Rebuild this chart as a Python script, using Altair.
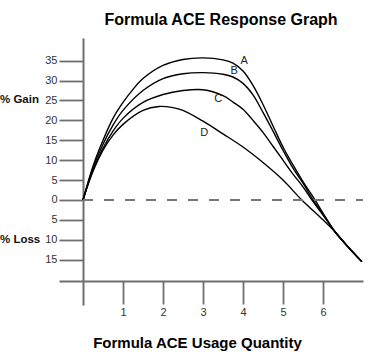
import altair as alt
import pandas as pd

# Curve data (x = usage quantity, y = % gain / -% loss)
a_x = [0, 0.25, 0.5, 0.75, 1, 1.25, 1.5, 2, 2.5, 3, 3.5, 3.75, 4, 4.25, 4.5, 4.75, 5, 5.25, 5.5, 5.8, 6, 6.3, 6.6, 6.97]
a_y = [0, 8.5, 15, 20.5, 24.5, 27.8, 30.5, 33.8, 35.3, 35.7, 35.2, 34.4, 32.4, 28.8, 24, 18.6, 13.3, 8.8, 4.6, 0, -3.3, -8, -11.5, -15.5]

b_x = [0, 0.25, 0.5, 0.75, 1, 1.5, 2, 2.5, 3, 3.5, 3.75, 4, 4.25, 4.5, 4.75, 5, 5.25, 5.5, 5.75, 6, 6.3, 6.6, 6.97]
b_y = [0, 8, 14, 18.8, 22.5, 27.5, 30.5, 31.7, 32, 31.6, 30.9, 29.3, 26.4, 22, 17.3, 12.5, 8, 4.2, 0, -3.6, -8, -11.5, -15.5]

c_x = [0, 0.25, 0.5, 0.75, 1, 1.5, 2, 2.5, 3, 3.5, 3.75, 4, 4.25, 4.5, 4.75, 5, 5.25, 5.5, 5.72, 6, 6.3, 6.6, 6.97]
c_y = [0, 7.5, 13, 17.3, 20.5, 24.5, 26.5, 27.5, 27.7, 26.2, 24.6, 22.8, 20, 17, 13.5, 10, 6.5, 3.3, 0, -3.8, -8, -11.5, -15.5]

d_x = [0, 0.25, 0.5, 0.75, 1, 1.5, 1.9, 2.25, 2.5, 3, 3.5, 4, 4.5, 5, 5.47, 6, 6.3, 6.6, 6.97]
d_y = [0, 7.2, 12.5, 16.3, 19, 22.5, 23.5, 23.2, 22.5, 19.8, 16.6, 13.3, 9.4, 5, 0, -5, -8, -11.5, -15.5]

series_names = ["A", "B", "C", "D"]
label_x = [4.03, 3.78, 3.38, 3.03]
label_y = [34.9, 32.4, 25.4, 16.8]

x_ticks = [1, 2, 3, 4, 5, 6]
y_ticks = [-15, -10, -5, 0, 5, 10, 15, 20, 25, 30, 35]
side_labels = ["% Gain", "% Loss"]
side_label_values = [25, -10]

rows = []
for name, xs, ys in zip(series_names, [a_x, b_x, c_x, d_x], [a_y, b_y, c_y, d_y]):
    for xv, yv in zip(xs, ys):
        rows.append({"series": name, "x": xv, "y": yv})
curves = pd.DataFrame(rows)
labels = pd.DataFrame({"series": series_names, "x": label_x, "y": label_y})
side = pd.DataFrame({"text": side_labels, "y": side_label_values})
zero = pd.DataFrame({"x": [0], "x2": [7.0], "y": [0]})

W, H = 304, 267
xs = alt.Scale(domain=[-0.6, 7.0], nice=False, zero=False)
ys = alt.Scale(domain=[-26.4, 40.7], nice=False, zero=False)

axis_common = dict(
    grid=False,
    domainColor="#6e6e6e",
    domainWidth=2,
    tickColor="#6e6e6e",
    tickWidth=1.8,
    labelColor="#333333",
    labelFont="Liberation Sans",
    labelFontSize=11,
    labelOverlap=False,
)

x_axis = alt.Axis(
    values=x_ticks,
    offset=-24,
    tickSize=23,
    labelPadding=2,
    title="Formula ACE Usage Quantity",
    titleFont="Liberation Sans",
    titleFontSize=15,
    titleFontWeight="bold",
    titleColor="#000000",
    titleX=138,
    titleY=66,
    titleBaseline="alphabetic",
    titleAnchor="middle",
    **axis_common,
)
y_axis = alt.Axis(
    values=y_ticks,
    offset=-24,
    tickSize=24,
    labelPadding=2,
    labelExpr="abs(datum.value)",
    title=None,
    **axis_common,
)

lines = alt.Chart(curves).mark_line(
    color="black", strokeWidth=1.4, interpolate="catmull-rom", clip=False
).encode(
    x=alt.X("x:Q", scale=xs, axis=x_axis),
    y=alt.Y("y:Q", scale=ys, axis=y_axis),
    detail="series:N",
)

zero_line = alt.Chart(zero).mark_rule(
    color="#777777", strokeWidth=2, strokeDash=[10, 11]
).encode(
    x=alt.X("x:Q", scale=xs, axis=x_axis),
    x2="x2:Q",
    y=alt.Y("y:Q", scale=ys, axis=y_axis),
)

curve_labels = alt.Chart(labels).mark_text(
    font="Liberation Sans", fontSize=11, color="#222222", align="center", baseline="middle"
).encode(
    x=alt.X("x:Q", scale=xs, axis=x_axis),
    y=alt.Y("y:Q", scale=ys, axis=y_axis),
    text="series:N",
)

side_text = alt.Chart(side).mark_text(
    font="Liberation Sans", fontSize=11.5, fontWeight="bold", color="#111111",
    align="left", baseline="middle"
).encode(
    x=alt.value(-59),
    y=alt.Y("y:Q", scale=ys, axis=y_axis),
    text="text:N",
)

chart = alt.layer(lines, zero_line, curve_labels, side_text).properties(
    width=W,
    height=H,
    background="white",
    autosize=alt.AutoSizeParams(type="none"),
    padding={"left": 59, "top": 38, "right": 8, "bottom": 51},
    title=alt.TitleParams(
        "Formula ACE Response Graph",
        font="Liberation Sans",
        fontSize=16,
        fontWeight="bold",
        color="#000000",
        anchor="middle",
        dx=10,
        dy=16,
        offset=10,
        baseline="bottom",
    ),
).configure_view(stroke="transparent", strokeWidth=0)

chart.save("out.html", embed_options={"renderer": "svg", "actions": False})
